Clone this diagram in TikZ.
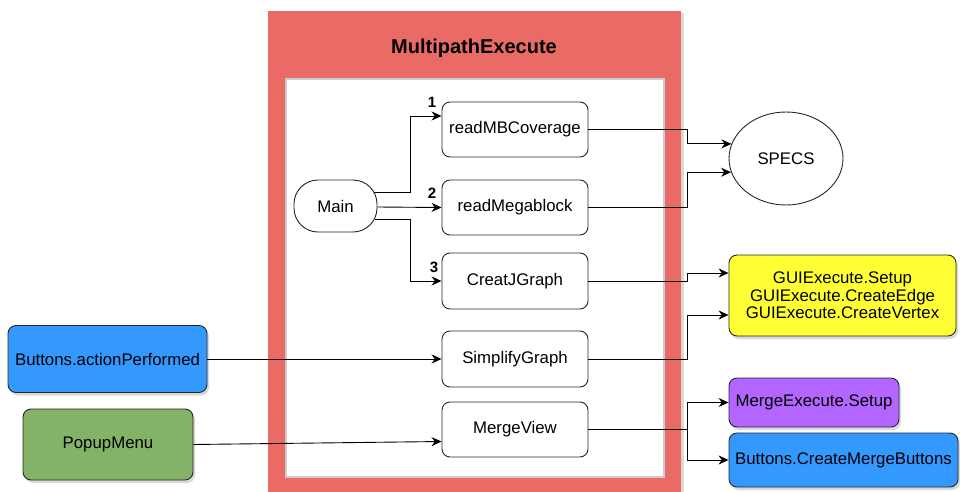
\documentclass[tikz,border=0pt]{standalone}
\usepackage{fontspec}
\setmainfont{Liberation Sans}
\usetikzlibrary{shapes.geometric,arrows.meta,calc,shadows}
\definecolor{redc}{HTML}{EA6B66}
\definecolor{bluec}{HTML}{3399FF}
\definecolor{greenc}{HTML}{82B366}
\definecolor{yellowc}{HTML}{FFFF33}
\definecolor{purplec}{HTML}{B266FF}
\tikzset{
  box/.style={draw=black!85, line width=0.9pt, rounded corners=8pt, fill=white, inner sep=0pt, align=center, font=\fontsize{16.8}{19}\selectfont},
  cbox/.style={box, drop shadow={opacity=0.3, shadow xshift=2pt, shadow yshift=-3pt}},
  arr/.style={draw=black, line width=0.9pt, -{Stealth[length=10pt,width=9pt]}},
  num/.style={inner sep=0pt, font=\fontsize{15}{17}\selectfont\bfseries}
}
\begin{document}
\begin{tikzpicture}[x=1pt,y=-1pt]
\useasboundingbox (0,0) rectangle (960,492);
% container
\fill[black!15] (270,13) rectangle (684,492);
\fill[redc] (268,11) rectangle (681,492);
\fill[white, draw=black!20, line width=1.2pt] (286,79) rectangle (664,477);
\node[font=\fontsize{20}{23}\selectfont\bfseries] (title) at (474,48) {MultipathExecute};
% inner nodes
\node[box, minimum width=83pt, minimum height=52pt, rounded corners=24pt] (main) at (335.5,206) {Main};
\node[box, minimum width=146pt, minimum height=55pt] (rmb) at (515,129.5) {readMBCoverage};
\node[box, minimum width=146pt, minimum height=55pt] (rmg) at (515,207.5) {readMegablock};
\node[box, minimum width=146pt, minimum height=56pt] (cjg) at (515,281) {CreatJGraph};
\node[box, minimum width=146pt, minimum height=56pt] (smp) at (515,359) {SimplifyGraph};
\node[box, minimum width=146pt, minimum height=55pt] (mrv) at (515,429.5) {MergeView};
% labels
\node[num] (n1) at (432,102) {1};
\node[num] (n2) at (432,193) {2};
\node[num] (n3) at (434,267) {3};
% right side
\node[draw=black!85, line width=0.9pt, ellipse, minimum width=114pt, minimum height=93pt, inner sep=0pt, font=\fontsize{16.8}{19}\selectfont] (specs) at (786,158.5) {SPECS};
\node[cbox, fill=yellowc, minimum width=227pt, minimum height=81pt] (gui) at (842.5,295.5) {GUIExecute.Setup\\[-1.5pt]GUIExecute.CreateEdge\\[-1.5pt]GUIExecute.CreateVertex};
\node[cbox, fill=purplec, minimum width=170pt, minimum height=49pt] (mes) at (814,402.5) {MergeExecute.Setup};
\node[cbox, fill=bluec, minimum width=229pt, minimum height=54pt] (bcm) at (843.5,460) {Buttons.CreateMergeButtons};
% left side
\node[cbox, fill=bluec, minimum width=199pt, minimum height=67pt] (bap) at (107.5,359) {Buttons.actionPerformed};
\node[cbox, fill=greenc, minimum width=170pt, minimum height=71pt] (pop) at (108,444.5) {PopupMenu};
% connectors from Main
\coordinate (m1) at ($(main.east)+(-3,-14)$);
\coordinate (m2) at ($(main.east)+(0,1)$);
\coordinate (m3) at ($(main.east)+(-2,13)$);
\draw[arr] (m1) -- (410,192) |- ($(rmb.west)+(0,-13.5)$);
\draw[arr] (m2) -- (rmg.west);
\draw[arr] (m3) -- (410,219) |- (cjg.west);
% right connectors
\draw[arr] (rmb.east) -- ++(99,0) |- (specs.165.6);
\draw[arr] (rmg.east) -- ++(99,0) |- (specs.194.7);
\draw[arr] (cjg.east) -- ++(99,0) |- ($(gui.west)+(0,-22.5)$);
\draw[arr] (smp.east) -- ++(99,0) |- ($(gui.west)+(0,19.5)$);
\draw[arr] (mrv.east) -- ++(99,0) |- (mes.west);
\draw[arr] (mrv.east) -- ++(99,0) |- (bcm.west);
% left connectors
\draw[arr] (bap.east) -- (smp.west);
\draw[arr] (pop.east) -- ($(mrv.west)+(0,12)$);
\end{tikzpicture}
\end{document}
